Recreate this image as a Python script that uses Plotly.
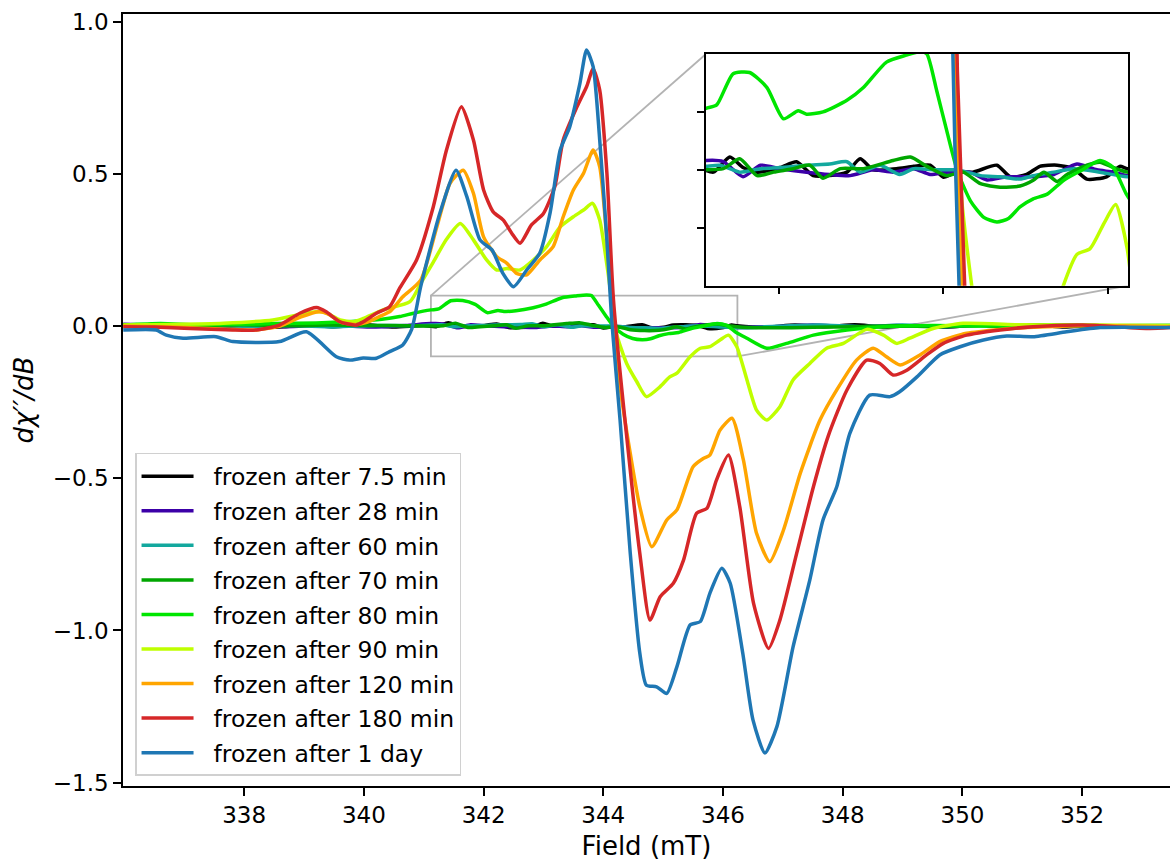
import plotly.graph_objects as go

# ---------------- data ----------------
labels = ["frozen after 7.5 min", "frozen after 28 min", "frozen after 60 min",
          "frozen after 70 min", "frozen after 80 min", "frozen after 90 min",
          "frozen after 120 min", "frozen after 180 min", "frozen after 1 day"]
colors = ["#000000", "#3c00a8", "#13a89e", "#00a600", "#00e600", "#bfff00",
          "#ffa500", "#d62728", "#1f77b4"]

x_75 = [335.98, 336.5, 337.0, 337.5, 338.0, 338.5, 339.0, 339.5, 340.0, 340.5, 341.0,
        341.21, 341.41, 341.57, 341.74, 342.02, 342.22, 342.42, 342.62, 342.83, 342.99,
        343.15, 343.43, 343.64, 343.84, 344.00, 344.16, 344.36, 344.65, 344.81, 345.01,
        345.17, 345.38, 345.58, 345.74, 345.98, 346.14, 346.23, 346.7, 347.2, 347.7,
        348.2, 348.7, 349.2, 349.7, 350.2, 350.7, 351.2, 351.7, 352.2, 352.7, 353.47]
y_75 = [0.003, -0.002, 0.004, -0.003, 0.002, -0.004, 0.003, -0.002, 0.004, -0.003, 0.002,
        -0.002, 0.011, 0.002, -0.002, 0.002, 0.007, -0.005, -0.005, -0.002, 0.0095,
        0.0, 0.001, 0.003, 0.004, -0.0064, -0.002, -0.002, 0.004, -0.006, -0.004,
        0.003, 0.004, 0.001, -0.008, -0.006, 0.003, 0.001, -0.004, 0.003, -0.002,
        0.004, -0.003, 0.002, -0.004, 0.003, -0.002, 0.004, -0.003, 0.002, -0.002, 0.001]

x_28 = [335.98, 336.6, 337.3, 338.0, 338.7, 339.4, 340.1, 340.7,
        341.12, 341.33, 341.57, 341.78, 342.02, 342.34, 342.62, 342.87, 343.15, 343.39,
        343.64, 343.84, 344.04, 344.32, 344.53, 344.77, 345.05, 345.34, 345.62, 345.86,
        346.06, 346.23, 346.8, 347.5, 348.2, 348.9, 349.6, 350.3, 351.0, 351.7, 352.4, 353.47]
y_28 = [0.006, 0.002, -0.003, 0.003, -0.002, 0.004, -0.003, 0.002,
        0.008, 0.007, -0.006, 0.004, 0.001, -0.002, -0.004, -0.005, 0.0, -0.002,
        0.001, -0.004, -0.002, -0.002, -0.0087, -0.006, -0.006, -0.004, 0.005, 0.0,
        -0.002, -0.005, -0.002, 0.003, -0.003, 0.002, -0.002, 0.003, -0.002, 0.002, -0.003, 0.001]

x_60 = [335.98, 336.7, 337.4, 338.1, 338.8, 339.5, 340.2, 340.8,
        341.12, 341.29, 341.53, 341.78, 342.02, 342.34, 342.62, 342.83, 342.99, 343.23,
        343.47, 343.64, 343.88, 344.16, 344.45, 344.69, 344.93, 345.09, 345.34, 345.58,
        345.90, 346.23, 346.9, 347.6, 348.3, 349.0, 349.7, 350.4, 351.1, 351.8, 352.5, 353.47]
y_60 = [0.002, -0.002, 0.003, -0.001, 0.002, -0.003, 0.002, 0.001,
        0.003, 0.004, -0.002, 0.001, 0.002, 0.004, 0.005, 0.007, -0.002, 0.004,
        -0.004, 0.001, 0.0, 0.0, -0.005, -0.006, -0.008, -0.005, -0.002, 0.001,
        -0.002, -0.006, -0.001, 0.003, -0.002, 0.003, -0.002, 0.002, -0.002, 0.003, 0.001, 0.002]

x_70 = [335.98, 336.6, 337.3, 338.0, 338.7, 339.4, 340.1, 340.7,
        341.12, 341.33, 341.53, 341.74, 341.94, 342.18, 342.38, 342.54, 342.75, 343.03,
        343.39, 343.60, 343.80, 344.04, 344.24, 344.45, 344.69, 344.93, 345.09, 345.22,
        345.38, 345.50, 345.74, 345.90, 346.06, 346.23, 346.8, 347.5, 348.2, 348.9,
        349.6, 350.3, 351.0, 351.7, 352.4, 353.47]
y_70 = [0.003, 0.005, 0.002, 0.004, 0.001, 0.003, 0.002, 0.001,
        0.0, 0.001, 0.0095, -0.005, -0.002, 0.001, 0.004, -0.0072, 0.001, 0.001,
        0.008, 0.011, 0.003, -0.005, -0.002, -0.012, -0.015, -0.014, -0.009, -0.002,
        -0.010, -0.004, 0.004, 0.0066, 0.002, -0.002, -0.006, -0.004, -0.002, 0.001,
        -0.002, 0.002, -0.001, 0.002, 0.0, 0.001]

x_80 = [335.98, 336.6, 337.2, 337.9, 338.5, 339.2, 339.8, 340.3, 340.6, 340.83,
        341.12, 341.25, 341.45, 341.65, 341.86, 342.06, 342.24, 342.34, 342.54, 342.83,
        343.03, 343.31, 343.55, 343.72, 343.80, 343.92, 344.04, 344.17, 344.33, 344.49,
        344.65, 344.79, 344.93, 345.09, 345.26, 345.46, 345.66, 345.90, 346.06, 346.22,
        346.40, 346.73, 347.06, 347.51, 348.07, 348.6, 349.5, 350.5, 351.5, 352.5, 353.47]
y_80 = [0.003, 0.008, 0.004, 0.006, 0.008, 0.010, 0.015, 0.022, 0.031, 0.042,
        0.053, 0.056, 0.083, 0.084, 0.071, 0.044, 0.051, 0.048, 0.050, 0.060,
        0.071, 0.093, 0.099, 0.102, 0.100, 0.068, 0.034, -0.001, -0.027, -0.041,
        -0.045, -0.042, -0.032, -0.025, -0.021, -0.009, -0.001, 0.008, 0.002, -0.021,
        -0.040, -0.073, -0.057, -0.030, -0.013, -0.003, 0.002, 0.0, 0.003, 0.001, 0.002]

x_90 = [335.98, 336.8, 337.65, 338.48, 339.04, 339.32, 339.60, 339.82, 339.99, 340.32,
        340.77, 340.95, 341.16, 341.38, 341.61, 341.83, 342.05, 342.22, 342.39, 342.61,
        342.83, 343.05, 343.28, 343.50, 343.67, 343.82, 343.94, 344.08, 344.22, 344.39,
        344.56, 344.72, 344.95, 345.11, 345.23, 345.45, 345.62, 345.78, 345.95, 346.09,
        346.23, 346.40, 346.56, 346.73, 346.95, 347.17, 347.45, 347.73, 348.01, 348.40,
        348.68, 348.90, 349.12, 349.51, 350.01, 351.0, 352.0, 353.47]
y_90 = [0.003, 0.005, 0.009, 0.020, 0.042, 0.047, 0.020, 0.014, 0.025, 0.053,
        0.080, 0.140, 0.210, 0.285, 0.337, 0.283, 0.217, 0.184, 0.189, 0.184,
        0.217, 0.260, 0.326, 0.359, 0.381, 0.403, 0.348, 0.173, -0.024, -0.123,
        -0.183, -0.232, -0.199, -0.167, -0.155, -0.101, -0.073, -0.068, -0.046, -0.030,
        -0.068, -0.177, -0.276, -0.309, -0.265, -0.177, -0.123, -0.073, -0.057, -0.011,
        -0.030, -0.057, -0.040, -0.008, 0.009, 0.004, 0.003, 0.002]

x_120 = [335.98, 336.8, 337.6, 338.2, 338.6, 338.95, 339.25, 339.40, 339.62, 339.87,
         340.05, 340.25, 340.45, 340.65, 340.95, 341.22, 341.44, 341.66, 341.83, 342.00,
         342.22, 342.39, 342.55, 342.72, 342.94, 343.16, 343.33, 343.50, 343.67, 343.83,
         343.94, 344.06, 344.17, 344.28, 344.45, 344.61, 344.81, 345.06, 345.23, 345.50,
         345.67, 345.78, 345.95, 346.15, 346.34, 346.56, 346.78, 347.01, 347.29, 347.62,
         347.90, 348.23, 348.51, 348.73, 348.96, 349.29, 349.62, 350.07, 350.63, 351.3,
         352.2, 353.47]
y_120 = [0.000, -0.003, -0.010, -0.013, 0.000, 0.030, 0.047, 0.040, 0.012, 0.005,
         0.012, 0.030, 0.050, 0.096, 0.151, 0.326, 0.469, 0.512, 0.436, 0.293,
         0.228, 0.206, 0.173, 0.168, 0.217, 0.260, 0.359, 0.447, 0.502, 0.578,
         0.523, 0.283, 0.009, -0.199, -0.418, -0.594, -0.725, -0.637, -0.604, -0.462,
         -0.435, -0.424, -0.342, -0.303, -0.440, -0.681, -0.774, -0.670, -0.484, -0.309,
         -0.210, -0.112, -0.073, -0.101, -0.128, -0.095, -0.051, -0.024, -0.011, -0.003,
         0.002, -0.002]

x_180 = [335.98, 336.5, 337.1, 337.81, 338.2, 338.59, 338.93, 339.21, 339.37, 339.60,
         339.87, 339.99, 340.21, 340.43, 340.60, 340.88, 341.16, 341.38, 341.63, 341.83,
         342.00, 342.16, 342.33, 342.47, 342.61, 342.80, 343.00, 343.19, 343.33, 343.56,
         343.72, 343.83, 343.94, 344.06, 344.17, 344.45, 344.61, 344.78, 344.95, 345.17,
         345.34, 345.56, 345.73, 345.89, 346.09, 346.28, 346.51, 346.76, 346.95, 347.23,
         347.51, 347.76, 348.07, 348.40, 348.62, 348.84, 349.07, 349.40, 349.68, 350.07,
         350.63, 351.18, 352.01, 353.13, 353.47]
y_180 = [-0.002, -0.003, -0.008, -0.013, -0.013, 0.003, 0.042, 0.061, 0.047, 0.014,
         0.003, 0.014, 0.042, 0.063, 0.125, 0.217, 0.392, 0.578, 0.720, 0.611,
         0.447, 0.375, 0.348, 0.305, 0.272, 0.332, 0.370, 0.458, 0.611, 0.720,
         0.786, 0.845, 0.775, 0.502, 0.085, -0.473, -0.747, -0.966, -0.889, -0.845,
         -0.769, -0.615, -0.599, -0.506, -0.424, -0.594, -0.911, -1.059, -0.966, -0.747,
         -0.528, -0.360, -0.210, -0.112, -0.123, -0.161, -0.145, -0.095, -0.057, -0.030,
         -0.013, -0.002, 0.003, -0.008, -0.005]

x_day = [335.98, 336.53, 336.70, 336.98, 337.53, 337.81, 338.59, 339.04, 339.54, 339.76,
         339.99, 340.21, 340.43, 340.65, 340.80, 340.95, 341.27, 341.54, 341.72, 341.94,
         342.14, 342.32, 342.50, 342.72, 342.94, 343.11, 343.28, 343.44, 343.61, 343.72,
         343.83, 343.94, 344.06, 344.14, 344.28, 344.45, 344.61, 344.72, 344.89, 345.06,
         345.23, 345.45, 345.62, 345.78, 345.98, 346.12, 346.33, 346.50, 346.70, 346.90,
         347.17, 347.45, 347.67, 347.90, 348.12, 348.45, 348.79, 348.95, 349.24, 349.62,
         349.96, 350.35, 350.74, 351.18, 351.74, 352.30, 353.47]
y_day = [-0.013, -0.013, -0.030, -0.040, -0.035, -0.051, -0.051, -0.019, -0.101, -0.112,
         -0.105, -0.106, -0.084, -0.062, -0.010, 0.130, 0.371, 0.512, 0.425, 0.283,
         0.250, 0.174, 0.129, 0.184, 0.240, 0.371, 0.578, 0.655, 0.798, 0.907,
         0.852, 0.611, 0.283, 0.020, -0.309, -0.746, -1.075, -1.180, -1.185, -1.207,
         -1.119, -0.982, -0.971, -0.878, -0.796, -0.845, -1.075, -1.294, -1.403, -1.316,
         -1.054, -0.834, -0.637, -0.528, -0.352, -0.227, -0.232, -0.216, -0.167, -0.095,
         -0.068, -0.046, -0.033, -0.035, -0.019, -0.005, -0.005]

series_x = [x_75, x_28, x_60, x_70, x_80, x_90, x_120, x_180, x_day]
series_y = [y_75, y_28, y_60, y_70, y_80, y_90, y_120, y_180, y_day]

x_ticks = [338, 340, 342, 344, 346, 348, 350, 352]
y_ticks = [-1.5, -1.0, -0.5, 0.0, 0.5, 1.0]
inset_x_ticks = [342, 344, 346]
inset_y_ticks = [-0.05, 0.0, 0.05]

# ---------------- layout parameters ----------------
X_RANGE = [335.976, 353.467]
Y_RANGE = [-1.511, 1.025]
INSET_X = [341.12, 346.24]
INSET_Y = [-0.1, 0.1]
INSET_DOM_X = [0.5568, 0.9599]
INSET_DOM_Y = [0.6481, 0.9482]
FONT = "DejaVu Sans"
NBSP = "\u00a0\u00a0"

fig = go.Figure()
for i, (xs, ys) in enumerate(zip(series_x, series_y)):
    assert len(xs) == len(ys), labels[i]
    fig.add_trace(go.Scatter(x=xs, y=ys, mode="lines", name=NBSP + labels[i],
                             legendgroup=labels[i],
                             line=dict(color=colors[i], width=3.5, shape="spline", smoothing=0.6),
                             xaxis="x", yaxis="y", hoverinfo="skip"))
for i, (xs, ys) in enumerate(zip(series_x, series_y)):
    fig.add_trace(go.Scatter(x=xs, y=ys, mode="lines", name=labels[i],
                             legendgroup=labels[i], showlegend=False,
                             line=dict(color=colors[i], width=3.5, shape="spline", smoothing=0.6),
                             xaxis="x2", yaxis="y2", hoverinfo="skip"))

def to_main_x(f):
    return X_RANGE[0] + f * (X_RANGE[1] - X_RANGE[0])

def to_main_y(f):
    return Y_RANGE[0] + f * (Y_RANGE[1] - Y_RANGE[0])

grey = "#b3b3b3"
shapes = [
    dict(type="rect", xref="x", yref="y", x0=INSET_X[0], x1=INSET_X[1],
         y0=INSET_Y[0], y1=INSET_Y[1], line=dict(color=grey, width=1.8), layer="below"),
    dict(type="line", xref="x", yref="y", x0=INSET_X[0], y0=INSET_Y[1],
         x1=to_main_x(INSET_DOM_X[0]), y1=to_main_y(INSET_DOM_Y[1]),
         line=dict(color=grey, width=1.8), layer="below"),
    dict(type="line", xref="x", yref="y", x0=INSET_X[1], y0=INSET_Y[0],
         x1=to_main_x(INSET_DOM_X[1]), y1=to_main_y(INSET_DOM_Y[0]),
         line=dict(color=grey, width=1.8), layer="below"),
]

fig.update_layout(
    width=1170, height=861,
    margin=dict(l=123, r=0, t=14, b=75),
    plot_bgcolor="white", paper_bgcolor="white",
    font=dict(family=FONT, size=23, color="black"),
    showlegend=True,
    shapes=shapes,
    xaxis=dict(range=X_RANGE, domain=[0, 1], tickvals=x_ticks, ticks="outside",
               ticklen=8, tickwidth=1.5, tickcolor="black",
               showline=True, linecolor="black", linewidth=1.5, mirror=True,
               showgrid=False, zeroline=False,
               tickfont=dict(family=FONT, size=23),
               title=dict(text="Field (mT)", font=dict(family=FONT, size=26), standoff=13)),
    yaxis=dict(range=Y_RANGE, domain=[0, 1], tickvals=y_ticks, tickformat=".1f",
               ticks="outside", ticklen=8, tickwidth=1.5, tickcolor="black",
               showline=True, linecolor="black", linewidth=1.5, mirror=False,
               showgrid=False, zeroline=False,
               tickfont=dict(family=FONT, size=23),
               title=dict(text="<i>dχ′′/dB</i>", font=dict(family=FONT, size=26),
                          standoff=12)),
    xaxis2=dict(range=INSET_X, domain=INSET_DOM_X, anchor="y2", tickvals=inset_x_ticks,
                showticklabels=False, ticks="outside", ticklen=7, tickwidth=1.5,
                tickcolor="black", showline=True, linecolor="black", linewidth=1.5,
                mirror=True, showgrid=False, zeroline=False),
    yaxis2=dict(range=INSET_Y, domain=INSET_DOM_Y, anchor="x2", tickvals=inset_y_ticks,
                showticklabels=False, ticks="outside", ticklen=7, tickwidth=1.5,
                tickcolor="black", showline=True, linecolor="black", linewidth=1.5,
                mirror=True, showgrid=False, zeroline=False),
    legend=dict(x=0.0115, y=0.013, xanchor="left", yanchor="bottom",
                bgcolor="rgba(255,255,255,0.85)", bordercolor="#d0d0d0", borderwidth=1.5,
                font=dict(family=FONT, size=23.5), tracegroupgap=1, itemwidth=52,
                traceorder="grouped"),
)

fig.write_html("out.html")
